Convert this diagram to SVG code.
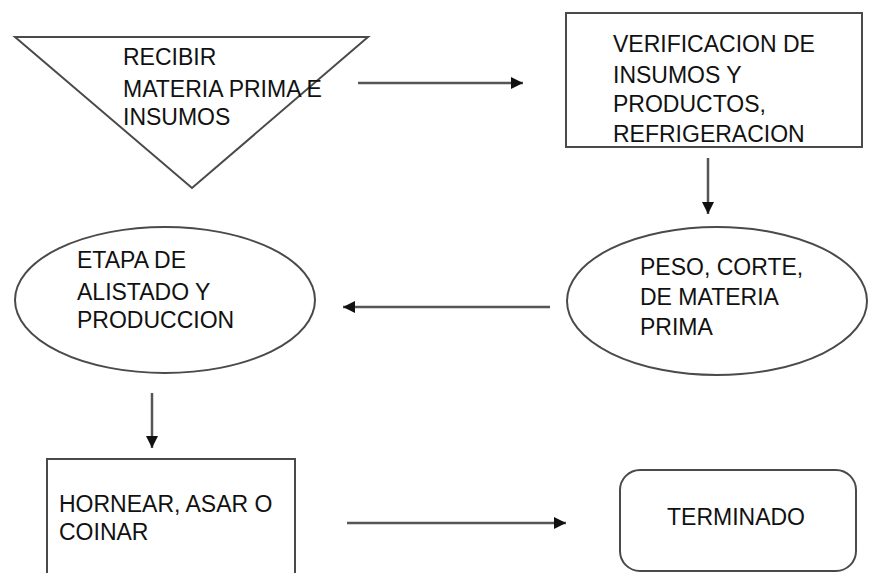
<svg xmlns="http://www.w3.org/2000/svg" width="882" height="573" viewBox="0 0 882 573">
<style>
.shape{fill:#fff;stroke:#4a4a4a;stroke-width:2}
.lbl{font-family:"Liberation Sans",Arial,sans-serif;font-size:23px;fill:#111}
.conn{stroke:#555;stroke-width:2.5;fill:none;marker-end:url(#ah)}
</style>
<defs>
<marker id="ah" markerUnits="userSpaceOnUse" markerWidth="14" markerHeight="14" refX="12" refY="6" orient="auto">
<path d="M0,0 L12,6 L0,12 Z" fill="#111"/>
</marker>
</defs>
<rect width="882" height="573" fill="#fff"/>
<g id="recibir">
<polygon class="shape" points="15,37 368,37 192,188"/>
<text class="lbl"><tspan x="123" y="65">RECIBIR</tspan><tspan x="123" y="97">MATERIA PRIMA E</tspan><tspan x="123" y="125">INSUMOS</tspan></text>
</g>
<g id="verificacion">
<rect class="shape" x="566" y="13" width="296" height="134"/>
<text class="lbl"><tspan x="613" y="52">VERIFICACION DE</tspan><tspan x="613" y="83">INSUMOS Y</tspan><tspan x="613" y="112">PRODUCTOS,</tspan><tspan x="613" y="142">REFRIGERACION</tspan></text>
</g>
<g id="peso">
<ellipse class="shape" cx="717" cy="301" rx="150" ry="74"/>
<text class="lbl"><tspan x="640" y="275">PESO, CORTE,</tspan><tspan x="640" y="305">DE MATERIA</tspan><tspan x="640" y="335">PRIMA</tspan></text>
</g>
<g id="etapa">
<ellipse class="shape" cx="165" cy="300" rx="150" ry="73"/>
<text class="lbl"><tspan x="77" y="268">ETAPA DE</tspan><tspan x="77" y="300">ALISTADO Y</tspan><tspan x="77" y="328">PRODUCCION</tspan></text>
</g>
<g id="hornear">
<rect class="shape" x="47" y="459" width="248" height="130"/>
<text class="lbl"><tspan x="59" y="512">HORNEAR, ASAR O</tspan><tspan x="59" y="540">COINAR</tspan></text>
</g>
<g id="terminado">
<rect class="shape" x="620" y="470" width="236" height="101" rx="20" ry="20"/>
<text class="lbl" x="667" y="525">TERMINADO</text>
</g>
<g id="connectors">
<line class="conn" x1="358" y1="83" x2="523" y2="83"/>
<line class="conn" x1="708" y1="158" x2="708" y2="214"/>
<line class="conn" x1="550" y1="307" x2="343" y2="307"/>
<line class="conn" x1="152" y1="393" x2="152" y2="448"/>
<line class="conn" x1="347" y1="523" x2="566" y2="523"/>
</g>
</svg>
